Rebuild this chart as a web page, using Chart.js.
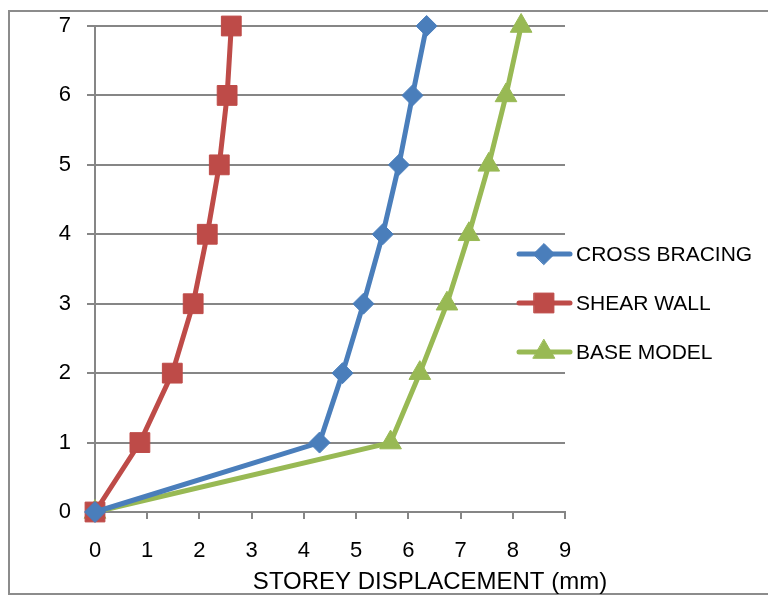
<!DOCTYPE html>
<html>
<head>
<meta charset="utf-8">
<script src="https://cdn.jsdelivr.net/npm/chart.js@4.4.1/dist/chart.umd.min.js"></script>
<style>
  html, body { margin: 0; padding: 0; background: #fff; }
  #wrap { position: relative; width: 768px; height: 599px; }
  #frame { position: absolute; left: 8px; top: 10px; width: 770px; height: 585px; border: 2px solid #8c8c8c; box-sizing: border-box; }
  canvas { position: absolute; left: 0; top: 0; }
</style>
</head>
<body>
<div id="wrap">
  <div id="frame"></div>
  <canvas id="grafico" width="768" height="599"></canvas>
</div>
<script>
// pisos (eje Y) y desplazamientos por modelo (eje X, mm)
const storeys = [0, 1, 2, 3, 4, 5, 6, 7];
const crossBracing = [0, 4.30, 4.74, 5.14, 5.51, 5.82, 6.08, 6.35];
const shearWall = [0, 0.86, 1.48, 1.88, 2.15, 2.38, 2.53, 2.61];
const baseModel = [0, 5.66, 6.22, 6.74, 7.16, 7.54, 7.87, 8.16];
const seriesNames = ['CROSS BRACING', 'SHEAR WALL', 'BASE MODEL'];
const xTitle = 'STOREY DISPLACEMENT (mm)';

const FONT = "'Liberation Sans', Arial, sans-serif";

const toPoints = (vals) => vals.map((v, i) => ({ x: v, y: storeys[i] }));

const mkSerie = (label, vals, color, style, radius) => ({
    label, data: toPoints(vals), showLine: true,
    borderColor: color, backgroundColor: color, borderWidth: 5,
    pointStyle: style, pointRadius: radius, pointHoverRadius: radius,
    pointBorderColor: color, pointBackgroundColor: color, pointBorderWidth: 1,
    tension: 0, clip: false
});

// leyenda dibujada a mano: linea + marcador + texto
const leyendaPlugin = {
    id: 'leyendaLineas',
    afterDraw(chart) {
        const ctx = chart.ctx;
        chart.data.datasets.forEach((ds, i) => {
            const y = 254 + i * 49;
            ctx.save();
            ctx.strokeStyle = ds.borderColor;
            ctx.lineWidth = 5;
            ctx.lineCap = 'round';
            ctx.beginPath();
            ctx.moveTo(519, y);
            ctx.lineTo(570, y);
            ctx.stroke();
            ctx.fillStyle = ds.backgroundColor;
            ctx.strokeStyle = ds.borderColor;
            ctx.lineWidth = 1;
            Chart.helpers.drawPoint(ctx, { pointStyle: ds.pointStyle, radius: ds.pointRadius, borderWidth: 1, rotation: 0 }, 544, y);
            ctx.fillStyle = '#000';
            ctx.font = '21px ' + FONT;
            ctx.textBaseline = 'middle';
            ctx.fillText(ds.label, 576, y + 1);
            ctx.restore();
        });
        // titulo del eje X
        ctx.save();
        ctx.fillStyle = '#000';
        ctx.font = '24px ' + FONT;
        ctx.textAlign = 'center';
        ctx.textBaseline = 'middle';
        ctx.fillText(xTitle, 430, 582);
        ctx.restore();
    }
};

new Chart(document.getElementById('grafico'), {
    type: 'scatter',
    data: {
        datasets: [
            mkSerie(seriesNames[0], crossBracing, '#4a7ebb', 'rectRot', 10.5),
            mkSerie(seriesNames[1], shearWall, '#be4b48', 'rect', 14),
            mkSerie(seriesNames[2], baseModel, '#98b954', 'triangle', 12.5)
        ]
    },
    options: {
        responsive: false, animation: false, devicePixelRatio: 1,
        layout: { padding: { left: 0, top: 26, right: 203, bottom: 0 } },
        plugins: { legend: { display: false }, tooltip: { enabled: false } },
        scales: {
            x: {
                type: 'linear', min: 0, max: 9,
                afterFit: (s) => { s.height = 87; s.paddingLeft = 0; s.paddingRight = 0; },
                grid: { display: true, drawOnChartArea: false, color: '#868686', lineWidth: 2, tickLength: 7 },
                border: { color: '#868686', width: 2 },
                ticks: { stepSize: 1, color: '#000', padding: 19, font: { family: FONT, size: 22 } }
            },
            y: {
                type: 'linear', min: 0, max: 7,
                afterFit: (s) => { s.width = 95; s.paddingTop = 0; s.paddingBottom = 0; },
                grid: { color: '#868686', lineWidth: 2, tickLength: 8 },
                border: { color: '#868686', width: 2 },
                ticks: { stepSize: 1, color: '#000', padding: 16, font: { family: FONT, size: 22 } }
            }
        }
    },
    plugins: [leyendaPlugin]
});
</script>
</body>
</html>
